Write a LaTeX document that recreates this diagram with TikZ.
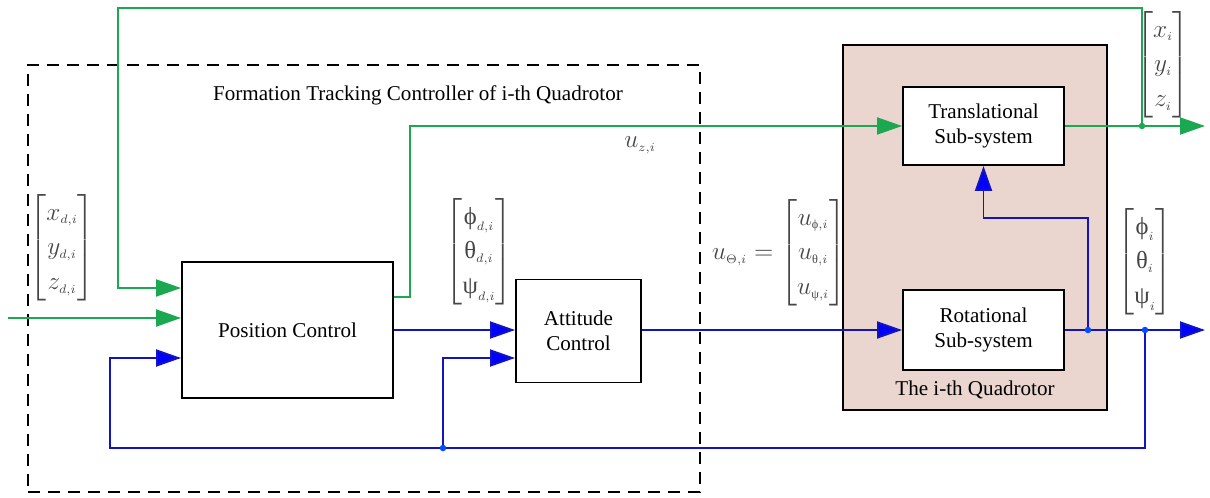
\documentclass[tikz,border=0pt]{standalone}
\usepackage{amsmath}
\usepackage{fontspec}
\setmainfont{Liberation Serif}
\usetikzlibrary{arrows.meta, positioning, calc}

\definecolor{lgreen}{RGB}{28,168,80}
\definecolor{lblue}{RGB}{20,20,190}
\definecolor{qpink}{RGB}{234,213,207}
\definecolor{lblgray}{RGB}{70,70,70}

\tikzset{
  block/.style={draw, line width=1.1pt, fill=white, align=center, font=\fontsize{12}{14}\selectfont},
  grn/.style={draw=lgreen, line width=1.1pt},
  blu/.style={draw=lblue, line width=1.1pt},
  arrg/.style={-{Triangle[length=5mm,width=3.4mm,fill=lgreen]}},
  arrb/.style={-{Triangle[length=5mm,width=3.4mm,fill=blue]}},
  vec/.style={text=lblgray, font=\fontsize{14}{17}\selectfont, inner sep=0pt},
  lbl/.style={font=\fontsize{12}{14}\selectfont}
}
\renewcommand{\arraystretch}{1.17}
\newcommand{\ssb}[1]{_{\scriptscriptstyle #1}}

\begin{document}
\begin{tikzpicture}[x=0.02cm, y=-0.02cm]
\useasboundingbox (0,0) rectangle (1210,497);

% quadrotor (pink box)
\node[draw, line width=1.1pt, fill=qpink, minimum width=5.28cm, minimum height=7.3cm] (quad) at (975,227.5) {};
\node[lbl] (quadlbl) at (975,390) {The i-th Quadrotor};

% controller (dashed box)
\node[draw, line width=1.1pt, dash pattern=on 0.24cm off 0.16cm, minimum width=13.44cm, minimum height=8.54cm] (ctrl) at (364,278.5) {};
\node[lbl] (ctrllbl) at (418,95) {Formation Tracking Controller of i-th Quadrotor};

% blocks
\node[block, minimum width=4.22cm, minimum height=2.72cm] (pos) at (287.5,330) {Position Control};
\node[block, minimum width=2.5cm, minimum height=2.06cm] (att) at (578.5,331) {Attitude\\Control};
\node[block, minimum width=3.22cm, minimum height=1.56cm] (trans) at (983.5,126) {Translational\\Sub-system};
\node[block, minimum width=3.22cm, minimum height=1.6cm] (rot) at (983.5,330) {Rotational\\Sub-system};

% junctions and corners
\coordinate (inp) at (8,318);
\coordinate (topc) at (118,8);
\coordinate (kink) at (410,126);
\coordinate (youtc) at (1205,126);
\coordinate (tdot) at (1142,126);
\coordinate (rdot1) at (1088,330);
\coordinate (rdot2) at (1145,330);
\coordinate (aoutc) at (1205,330);
\coordinate (botl) at (110,448);
\coordinate (bdot) at (443,448);

% green signals
\draw[grn, arrg] (inp) -- (inp -| pos.west);
\draw[grn, arrg] (tdot) |- (topc) |- ([yshift=0.84cm]pos.west);
\draw[grn, arrg] ([yshift=0.66cm]pos.east) -| (kink) -- (trans.west);
\draw[grn, arrg] (trans.east) -- (youtc);
\fill[lgreen] (tdot) circle (0.065cm);

% blue signals
\draw[blu, arrb] (pos.east) -- (pos.east -| att.west);
\draw[blu, arrb] (att.east |- rot.west) -- (rot.west);
\draw[blu, arrb] (rot.east) -- (aoutc);
\draw[blu, arrb] (rdot1) -- ++(0,-112) -| (trans.south);
\draw[blu, arrb] (rdot2) |- (botl) |- ([yshift=-0.56cm]pos.west);
\draw[blu, arrb] (bdot) |- ([yshift=-0.54cm]att.west);
\fill[blue!70!cyan] (rdot1) circle (0.065cm) (rdot2) circle (0.065cm) (bdot) circle (0.065cm);

% signal labels
\node[vec] (xd) at (62,248) {$\begin{bmatrix} x\ssb{d,i}\\ y\ssb{d,i}\\ z\ssb{d,i} \end{bmatrix}$};
\node[vec] (attd) at (479,252) {$\begin{bmatrix} \text{ϕ}\ssb{d,i}\\ \text{θ}\ssb{d,i}\\ \text{ψ}\ssb{d,i} \end{bmatrix}$};
\node[vec] (utheta) at (779,253) {$u\ssb{\Theta,i} = \begin{bmatrix} u\ssb{\text{ϕ},i}\\ u\ssb{\text{θ},i}\\ u\ssb{\text{ψ},i} \end{bmatrix}$};
\node[vec] (uz) at (640,145) {$u\ssb{z,i}$};
\node[vec] (xyz) at (1163,65) {$\begin{bmatrix} x\ssb{i}\\ y\ssb{i}\\ z\ssb{i} \end{bmatrix}$};
\node[vec] (ang) at (1145,262) {$\begin{bmatrix} \text{ϕ}\ssb{i}\\ \text{θ}\ssb{i}\\ \text{ψ}\ssb{i} \end{bmatrix}$};
\end{tikzpicture}
\end{document}
